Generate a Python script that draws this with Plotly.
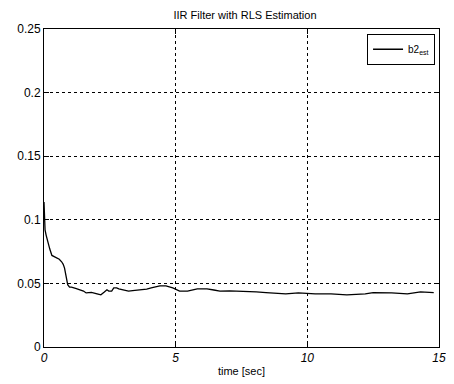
import plotly.graph_objects as go

t = [0.0, 0.02, 0.04, 0.08, 0.15, 0.22, 0.30, 0.40, 0.49, 0.58, 0.67, 0.73, 0.78, 0.84, 0.90, 0.97, 1.04,
     1.20, 1.34, 1.50, 1.60, 1.80, 1.98, 2.16, 2.28, 2.39, 2.46, 2.57, 2.65, 2.76, 2.84, 3.0, 3.21,
     3.45, 3.69, 3.90, 4.07, 4.25, 4.40, 4.63, 4.89, 5.15, 5.45, 5.82, 6.19, 6.45, 6.68, 7.05, 7.43,
     7.75, 8.06, 8.43, 8.69, 9.18, 9.66, 10.3, 10.9, 11.5, 12.2, 12.5, 13.2, 13.8, 14.3, 14.8]
b2_est = [0.114, 0.100, 0.092, 0.088, 0.082, 0.077, 0.072, 0.071, 0.070, 0.069, 0.067, 0.065, 0.062, 0.055, 0.049, 0.047, 0.047,
          0.046, 0.045, 0.044, 0.0425, 0.043, 0.042, 0.041, 0.043, 0.045, 0.044, 0.044, 0.0465, 0.0465, 0.0457, 0.0448, 0.044,
          0.0445, 0.045, 0.0455, 0.0465, 0.0472, 0.048, 0.048, 0.0465, 0.044, 0.044, 0.0457, 0.0457, 0.0448, 0.044, 0.0442, 0.044,
          0.0438, 0.0433, 0.0428, 0.0425, 0.0417, 0.0425, 0.0417, 0.0417, 0.041, 0.0417, 0.0428, 0.0425, 0.0417, 0.0433, 0.0428]

x_ticks = [0, 5, 10, 15]
y_ticks = [0, 0.05, 0.1, 0.15, 0.2, 0.25]
y_tick_labels = ["0", "0.05", "0.1", "0.15", "0.2", "0.25"]

font = "Liberation Sans, Arial, sans-serif"

fig = go.Figure()
fig.add_trace(go.Scatter(x=t, y=b2_est, mode="lines", name="b2<sub>est</sub>",
                         line=dict(color="black", width=1.3)))

W, H = 446, 376
fig.update_layout(
    width=W, height=H,
    margin=dict(l=36, r=8, t=21, b=37),
    paper_bgcolor="white", plot_bgcolor="white",
    font=dict(family=font, size=11, color="black"),
    title=dict(text="IIR Filter with RLS Estimation", x=237 / W, xanchor="center",
               y=1 - 7 / H, yanchor="middle", font=dict(size=11, family=font)),
    showlegend=True,
    legend=dict(x=0.99, y=0.985, xanchor="right", yanchor="top",
                bordercolor="black", borderwidth=1, bgcolor="white",
                font=dict(size=10, family=font), itemwidth=30,
                tracegroupgap=0),
)
fig.update_xaxes(range=[0, 15], tickvals=x_ticks, ticktext=[str(v) for v in x_ticks],
                 showline=True, linecolor="black", linewidth=1, mirror="ticks",
                 ticks="inside", ticklen=5, tickcolor="black",
                 showgrid=True, gridcolor="black", griddash="dot", gridwidth=1,
                 zeroline=False, tickfont=dict(size=12, style="italic"),
                 title=dict(text="time [sec]", standoff=2, font=dict(size=11)))
fig.update_yaxes(range=[0, 0.25], tickvals=y_ticks, ticktext=y_tick_labels,
                 showline=True, linecolor="black", linewidth=1, mirror="ticks",
                 ticks="inside", ticklen=5, tickcolor="black",
                 showgrid=True, gridcolor="black", griddash="dot", gridwidth=1,
                 zeroline=False, tickfont=dict(size=12))

fig.write_html("out.html")
